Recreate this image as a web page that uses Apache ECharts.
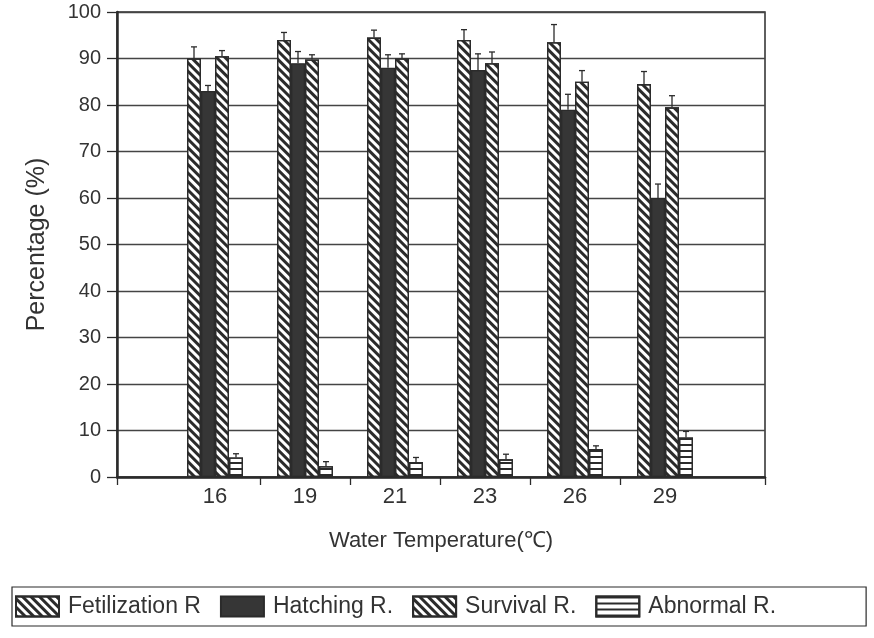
<!DOCTYPE html>
<html>
<head>
<meta charset="utf-8">
<title>Water temperature</title>
<script src="https://cdn.jsdelivr.net/npm/echarts@6/dist/echarts.min.js"></script>
<style>
  html, body { margin: 0; padding: 0; background: #fff; }
  #chart { width: 874px; height: 638px; }
</style>
</head>
<body>
<div id="chart"></div>
<script>
const categories = ['16', '19', '21', '23', '26', '29']
const seriesNames = ['Fetilization R', 'Hatching R.', 'Survival R.', 'Abnormal R.']

const fertilization = [90, 94, 94.5, 94, 93.5, 84.5]
const fertilizationErr = [2.5, 1.6, 1.6, 2.2, 3.8, 2.7]
const hatching = [83, 89, 88, 87.5, 79, 60]
const hatchingErr = [1.2, 2.5, 2.8, 3.5, 3.3, 3]
const survival = [90.5, 89.8, 90, 89, 85, 79.5]
const survivalErr = [1.2, 1, 1, 2.4, 2.4, 2.5]
const abnormal = [4.2, 2.3, 3.2, 3.8, 6, 8.5]
const abnormalErr = [0.8, 1, 1, 1.1, 0.7, 1.3]

const values = [fertilization, hatching, survival, abnormal]
const errors = [fertilizationErr, hatchingErr, survivalErr, abnormalErr]

const BAR_W = 14
const INK = '#2b2b2b'
const FONT = 'Liberation Sans, Arial, sans-serif'

// frame axis runs a bit wider than the category bands (in band units)
const frameMin = -0.5 - 53 / 90
const frameMax = 5.5 + 55 / 90

const diag = {
  symbol: 'rect',
  symbolSize: 1,
  dashArrayX: [1, 0],
  dashArrayY: [3, 3],
  rotation: Math.PI / 4,
  color: INK,
}
const styles = [
  {color: '#fff', borderColor: INK, borderWidth: 1.3, decal: diag},
  {color: '#363636', borderColor: INK, borderWidth: 1.3},
  {color: '#fff', borderColor: INK, borderWidth: 1.3, decal: diag},
  {
    color: '#fff', borderColor: INK, borderWidth: 1.3,
    decal: {
      symbol: 'rect', symbolSize: 1,
      dashArrayX: [1, 0], dashArrayY: [1.2, 4],
      color: INK,
    },
  },
]

const barSeries = values.map((v, k) => ({
  name: seriesNames[k],
  type: 'bar',
  xAxisIndex: 1,
  yAxisIndex: 1,
  barWidth: BAR_W,
  barGap: '0%',
  itemStyle: styles[k],
  data: v,
}))

const errSeries = errors.map((err, k) => ({
  name: 'err' + k,
  type: 'custom',
  xAxisIndex: 1,
  yAxisIndex: 1,
  silent: true,
  z: 5,
  encode: {x: 0, y: 1},
  data: values[k].map((v, i) => [i, v, err[i]]),
  renderItem: (params, api) => {
    const base = api.coord([api.value(0), api.value(1)])
    const top = api.coord([api.value(0), api.value(1) + api.value(2)])
    const x = base[0] + (k - 1.5) * BAR_W
    const style = {stroke: INK, lineWidth: 1.3}
    return {
      type: 'group',
      children: [
        {type: 'line', shape: {x1: x, y1: base[1], x2: x, y2: top[1]}, style},
        {type: 'line', shape: {x1: x - 3, y1: top[1], x2: x + 3, y2: top[1]}, style},
      ],
    }
  },
}))

const chart = echarts.init(document.getElementById('chart'))
chart.setOption({
  animation: false,
  textStyle: {fontFamily: FONT, color: '#333'},
  grid: [
    {left: 117, right: 109, top: 12, bottom: 161, show: true, borderColor: INK, borderWidth: 1.5},
    {left: 170, right: 164, top: 12, bottom: 161},
  ],
  legend: {
    data: seriesNames,
    left: 12,
    top: 587,
    padding: [8, 90, 8, 3],
    itemWidth: 43,
    itemHeight: 20,
    itemGap: 19,
    icon: 'rect',
    borderColor: INK,
    borderWidth: 1.2,
    textStyle: {fontSize: 23, color: '#333', fontFamily: FONT, padding: [0, 0, 0, 4]},
  },
  xAxis: [
    {
      type: 'value',
      gridIndex: 0,
      min: frameMin,
      max: frameMax,
      name: 'Water Temperature(℃)',
      nameLocation: 'middle',
      nameGap: 53,
      nameTextStyle: {fontSize: 22, color: '#333'},
      axisLine: {show: true, onZero: false, lineStyle: {color: INK, width: 2.5}},
      axisTick: {
        show: true,
        length: 8,
        customValues: [frameMin, 0.5, 1.5, 2.5, 3.5, 4.5, frameMax],
        lineStyle: {color: INK, width: 1.3},
      },
      axisLabel: {show: false},
      splitLine: {show: false},
    },
    {
      type: 'category',
      gridIndex: 1,
      data: categories,
      axisLine: {show: false},
      axisTick: {show: false},
      axisLabel: {fontSize: 22, color: '#333', margin: 9},
    },
  ],
  yAxis: [
    {
      type: 'value',
      gridIndex: 0,
      min: 0,
      max: 100,
      interval: 10,
      name: 'Percentage (%)',
      nameLocation: 'middle',
      nameGap: 67,
      nameTextStyle: {fontSize: 25, color: '#333'},
      axisLine: {show: true, onZero: false, lineStyle: {color: INK, width: 2.5}},
      axisTick: {show: true, length: 10, lineStyle: {color: INK, width: 1.3}},
      axisLabel: {fontSize: 20, color: '#333', margin: 16},
      splitLine: {show: true, lineStyle: {color: '#444', width: 1.4}},
    },
    {
      type: 'value',
      gridIndex: 1,
      min: 0,
      max: 100,
      show: false,
    },
  ],
  series: barSeries.concat(errSeries),
})
</script>
</body>
</html>
